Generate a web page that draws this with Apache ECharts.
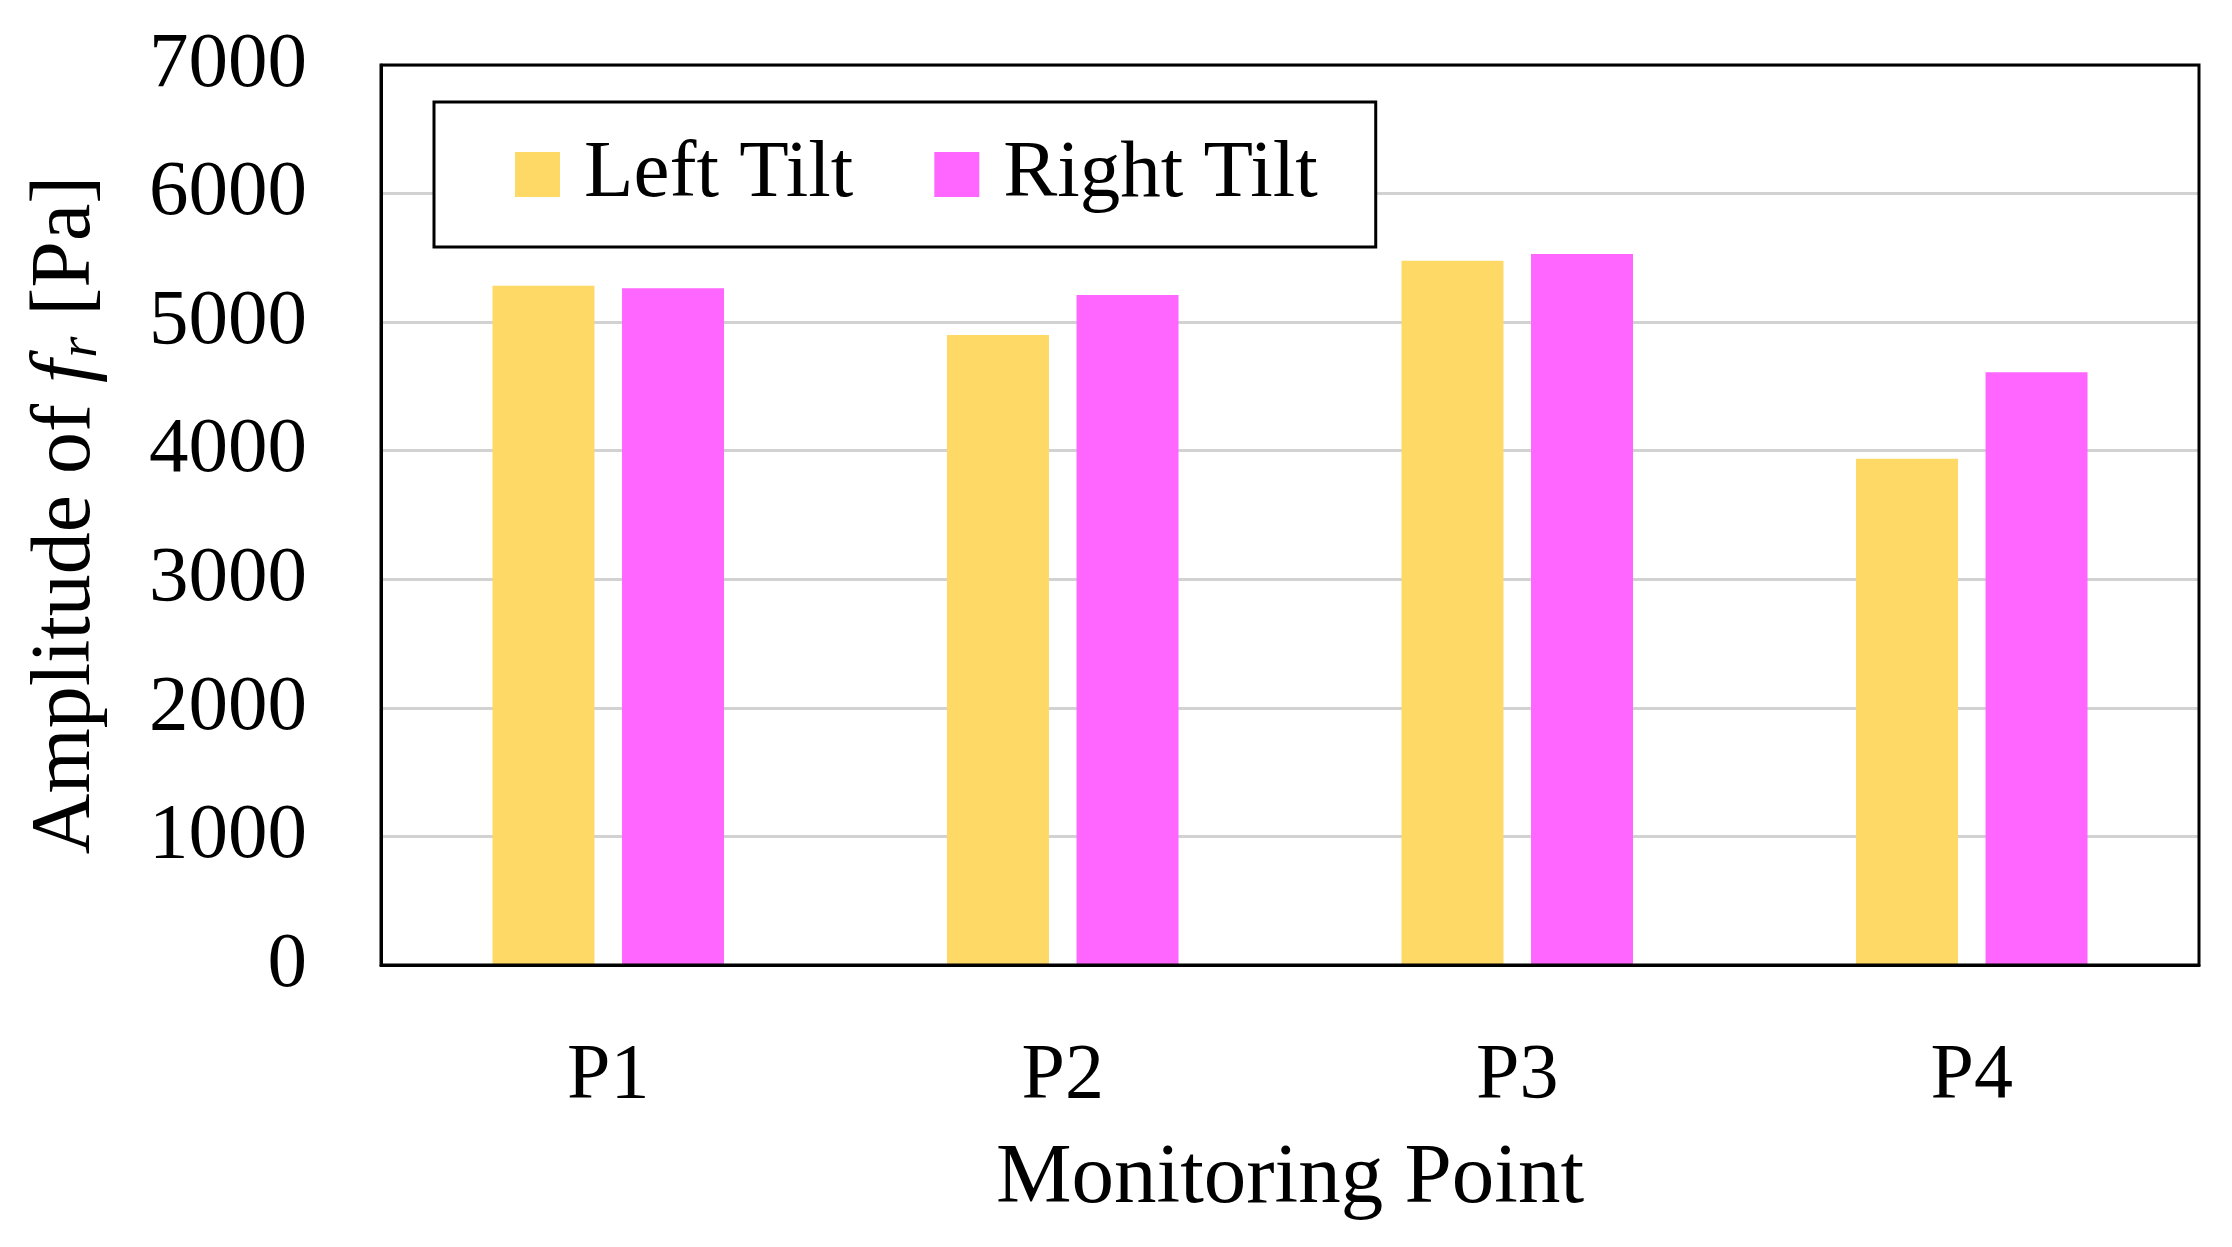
<!DOCTYPE html>
<html>
<head>
<meta charset="utf-8">
<script src="https://cdn.jsdelivr.net/npm/echarts@6/dist/echarts.min.js"></script>
<style>
html,body{margin:0;padding:0;background:#fff;}
#chart{width:2232px;height:1247px;}
</style>
</head>
<body>
<div id="chart"></div>
<script>
var categories = ['P1', 'P2', 'P3', 'P4'];
var leftTilt = [5283, 4900, 5478, 3938];
var rightTilt = [5263, 5211, 5530, 4610];
var yTicks = [0, 1000, 2000, 3000, 4000, 5000, 6000, 7000];

var FONT = '"Liberation Serif", "DejaVu Serif", serif';
var chart = echarts.init(document.getElementById('chart'));
chart.setOption({
  backgroundColor: '#fff',
  animation: false,
  textStyle: { fontFamily: FONT, color: '#000' },
  grid: { left: 381, right: 33, top: 65, bottom: 282, show: true, borderColor: '#000', borderWidth: 3, backgroundColor: 'transparent', z: 10 },
  legend: {
    left: 434, top: 102,
    padding: [32, 58, 32, 81],
    itemGap: 81,
    itemWidth: 45, itemHeight: 45,
    icon: 'rect',
    borderColor: '#000', borderWidth: 3,
    backgroundColor: '#fff',
    textStyle: { fontSize: 81, fontFamily: FONT, color: '#000', padding: [0, 0, 0, 19] },
    data: ['Left Tilt', 'Right Tilt']
  },
  xAxis: {
    type: 'category',
    data: categories,
    name: 'Monitoring Point',
    nameLocation: 'middle',
    nameGap: 172,
    nameTextStyle: { fontSize: 85, fontFamily: FONT, color: '#000' },
    axisLine: { show: true, lineStyle: { color: '#000', width: 3 } },
    axisTick: { show: false },
    axisLabel: { fontSize: 78, fontFamily: FONT, color: '#000', margin: 73 }
  },
  yAxis: {
    type: 'value',
    min: yTicks[0], max: yTicks[yTicks.length - 1], interval: 1000,
    name: '{a|Amplitude of }{i|f}{s|r}{a| [Pa]}',
    nameLocation: 'middle',
    nameGap: 272,
    nameRotate: 90,
    nameTextStyle: {
      fontFamily: FONT, color: '#000',
      rich: {
        a: { fontSize: 84, fontFamily: FONT, color: '#000' },
        i: { fontSize: 84, fontFamily: FONT, fontStyle: 'italic', color: '#000' },
        s: { fontSize: 54, fontFamily: FONT, fontStyle: 'italic', color: '#000', verticalAlign: 'bottom', padding: [30, 0, 0, 2] }
      }
    },
    axisLine: { show: true, lineStyle: { color: '#000', width: 3 } },
    axisTick: { show: false },
    axisLabel: { fontSize: 79, fontFamily: FONT, color: '#000', margin: 74, formatter: function (v) { return String(v); } },
    splitLine: { show: true, lineStyle: { color: '#d2d2d2', width: 3 } }
  },
  series: [
    { name: 'Left Tilt', type: 'bar', data: leftTilt, barWidth: 102, barGap: '27%', itemStyle: { color: '#FFD966' } },
    { name: 'Right Tilt', type: 'bar', data: rightTilt, barWidth: 102, barGap: '27%', itemStyle: { color: '#FF66FF' } }
  ]
});
</script>
</body>
</html>
